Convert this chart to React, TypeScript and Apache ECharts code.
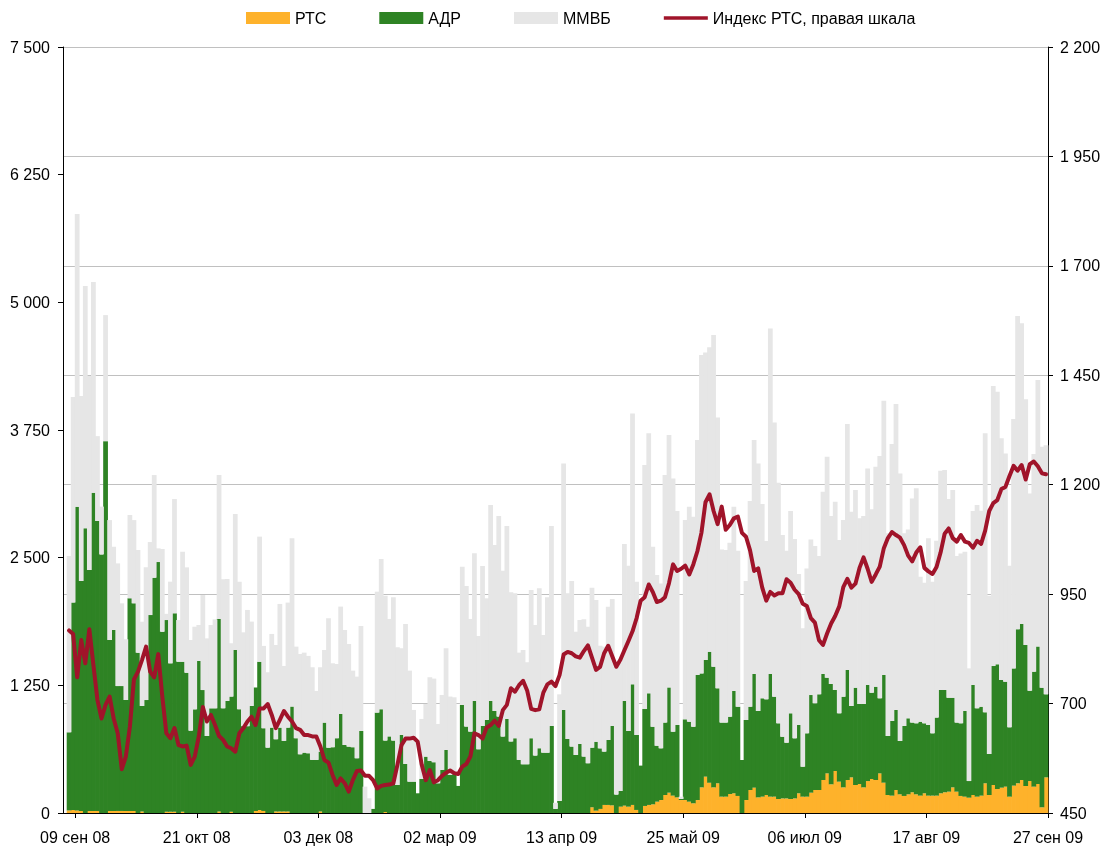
import React, { useEffect, useRef } from 'react';
import * as echarts from 'echarts';

// x-axis date labels (one every 30 trading days)
const tickLabels = ['09 сен 08', '21 окт 08', '03 дек 08', '02 мар 09', '13 апр 09', '25 май 09', '06 июл 09', '17 авг 09', '27 сен 09'];

// daily trading volumes, stacked
const rts = [
  25, 30, 25, 20, 0, 20, 20, 20, 0, 0,
  20, 20, 20, 20, 20, 20, 20, 0, 15, 0,
  0, 0, 0, 0, 12, 12, 12, 0, 12, 0,
  0, 0, 0, 0, 0, 0, 0, 15, 0, 0,
  12, 0, 0, 0, 0, 0, 20, 30, 20, 0,
  0, 15, 15, 15, 15, 0, 0, 0, 0, 0,
  0, 0, 15, 0, 0, 0, 0, 0, 0, 0,
  0, 0, 0, 0, 0, 0, 0, 0, 10, 0,
  0, 0, 0, 0, 0, 0, 0, 0, 0, 0,
  0, 0, 0, 0, 0, 0, 0, 0, 0, 0,
  0, 0, 0, 0, 0, 0, 0, 0, 0, 0,
  0, 0, 0, 0, 0, 0, 0, 0, 0, 0,
  0, 0, 0, 0, 0, 0, 0, 0, 0, 56,
  23, 40, 79, 79, 75, 0, 62, 72, 62, 79,
  30, 0, 69, 79, 85, 111, 127, 176, 199, 170,
  153, 127, 127, 111, 95, 127, 251, 356, 297, 251,
  291, 160, 160, 186, 193, 167, 0, 127, 225, 248,
  153, 160, 176, 160, 160, 137, 143, 143, 137, 143,
  193, 160, 160, 199, 225, 225, 323, 388, 281, 411,
  307, 251, 323, 349, 274, 284, 251, 313, 333, 323,
  388, 297, 176, 170, 225, 183, 167, 183, 203, 183,
  170, 193, 170, 170, 170, 193, 203, 209, 251, 209,
  167, 160, 150, 176, 160, 170, 291, 176, 274, 235,
  248, 258, 160, 268, 291, 323, 264, 313, 258, 284,
  56, 349,
];

const adr = [
  765, 2032, 2974, 2251, 2787, 2359, 3116, 2839, 2532, 3641,
  1674, 1772, 1223, 1223, 1086, 2082, 2033, 1570, 1033, 1106,
  1938, 2304, 2457, 1775, 1877, 1453, 1943, 1482, 1470, 1374,
  806, 1015, 1488, 1204, 754, 1025, 1025, 1884, 1025, 1097,
  1128, 1596, 1016, 850, 850, 1048, 1208, 1452, 810, 640,
  836, 707, 821, 691, 821, 1042, 732, 575, 591, 585,
  520, 520, 586, 885, 640, 644, 732, 970, 666, 650,
  644, 536, 803, 0, 0, 40, 983, 1016, 699, 750,
  709, 275, 764, 480, 307, 307, 193, 334, 552, 510,
  497, 291, 422, 617, 373, 383, 265, 1058, 846, 797,
  1097, 624, 852, 911, 1097, 999, 944, 748, 921, 699,
  732, 520, 477, 477, 732, 562, 634, 591, 591, 852,
  40, 118, 1009, 725, 650, 568, 676, 552, 487, 584,
  675, 593, 522, 636, 777, 180, 154, 1025, 741, 1181,
  734, 464, 949, 1093, 760, 548, 506, 709, 1031, 626,
  709, 10, 790, 783, 750, 1224, 1116, 1142, 1283, 1182,
  930, 725, 725, 757, 1002, 874, 519, 784, 816, 1113,
  846, 963, 937, 1201, 979, 741, 604, 546, 839, 588,
  669, 294, 620, 956, 849, 937, 1038, 937, 982, 794,
  669, 888, 1077, 699, 953, 783, 816, 940, 845, 914,
  735, 1054, 578, 731, 784, 522, 685, 744, 682, 695,
  724, 685, 692, 610, 764, 1012, 1002, 920, 878, 676,
  711, 839, 163, 1077, 865, 871, 695, 402, 1165, 1221,
  1054, 1028, 679, 1148, 1507, 1527, 1381, 885, 1126, 1345,
  1171, 813,
];

const mmvb = [
  1726, 2011, 2865, 1811, 2372, 1899, 2062, 831, 468, 1234,
  1174, 815, 1201, 810, 594, 815, 815, 1005, 825, 1299,
  715, 1005, 134, 810, 61, 800, 1119, 407, 1076, 1031,
  888, 809, 353, 930, 956, 816, 871, 1411, 1263, 1194,
  522, 1332, 1249, 919, 1138, 826, 0, 1224, 806, 738,
  917, 923, 1211, 734, 1224, 1647, 897, 982, 979, 953,
  907, 675, 826, 711, 1266, 822, 727, 1051, 1126, 1005,
  750, 799, 1028, 258, 144, 0, 1184, 1471, 1419, 1150,
  1403, 1348, 849, 1371, 1087, 702, 0, 587, 516, 819,
  819, 581, 734, 996, 767, 750, 0, 1354, 1377, 1103,
  1446, 1109, 1567, 1191, 1919, 1625, 1964, 1625, 1889, 1462,
  1419, 1050, 1119, 999, 1452, 1279, 1566, 1152, 1521, 1958,
  60, 1044, 2414, 1426, 1621, 1207, 1214, 1344, 1337, 1566,
  1387, 1005, 1027, 1305, 1243, 1253, 1259, 1537, 1618, 2652,
  1501, 0, 2389, 2545, 1762, 1671, 1615, 2424, 2470, 2480,
  2095, 23, 1951, 2105, 2056, 2301, 3117, 3012, 2979, 3246,
  2652, 1696, 1690, 1704, 1804, 1527, 0, 1360, 2014, 2291,
  2424, 1902, 1550, 3384, 2685, 2356, 1975, 1879, 1981, 1951,
  1478, 1354, 1615, 1524, 1540, 1354, 1785, 2163, 1645, 1843,
  1697, 1729, 2408, 1902, 1935, 1818, 1841, 2121, 1795, 2154,
  2372, 2686, 1984, 2711, 2995, 2620, 1886, 1850, 2195, 2301,
  1420, 1377, 1827, 1485, 1732, 2146, 2153, 1945, 2033, 1631,
  1664, 1559, 1103, 1704, 1990, 1919, 2731, 1550, 2741, 2669,
  2366, 2235, 1582, 2441, 3067, 2944, 2405, 1931, 2131, 2610,
  2359, 2438,
];

// RTS index, right scale
const rtsIndex = [
  867, 859, 760, 845, 792, 870, 788, 708, 666, 697,
  716, 666, 632, 550, 579, 647, 755, 773, 800, 830,
  773, 760, 813, 716, 632, 621, 644, 605, 602, 604,
  560, 579, 625, 692, 659, 674, 651, 626, 617, 602,
  598, 590, 632, 644, 659, 670, 651, 689, 689, 699,
  674, 644, 663, 683, 670, 659, 644, 640, 628, 628,
  625, 625, 602, 571, 565, 537, 514, 529, 518, 499,
  525, 546, 547, 535, 535, 525, 506, 512, 514, 515,
  518, 560, 605, 620, 620, 622, 613, 560, 525, 548,
  520, 525, 535, 542, 547, 541, 539, 556, 562, 579,
  632, 628, 620, 645, 651, 661, 649, 685, 697, 735,
  727, 742, 752, 730, 688, 685, 687, 725, 744, 750,
  740, 765, 812, 818, 815, 808, 805, 820, 833, 805,
  777, 784, 815, 832, 808, 784, 800, 822, 843, 865,
  895, 935, 943, 972, 955, 932, 935, 943, 975, 1018,
  1003, 1008, 1015, 995, 1018, 1048, 1090, 1160, 1178, 1140,
  1110, 1150, 1097, 1108, 1123, 1127, 1090, 1081, 1050, 1003,
  1009, 965, 935, 955, 947, 952, 952, 984, 976, 960,
  950, 928, 923, 895, 885, 845, 834, 860, 883, 900,
  922, 966, 985, 965, 974, 1010, 1034, 1008, 978, 995,
  1013, 1055, 1078, 1092, 1085, 1079, 1062, 1038, 1025, 1045,
  1057, 1010, 1002, 996, 1012, 1045, 1088, 1100, 1078, 1070,
  1085, 1070, 1067, 1056, 1072, 1065, 1095, 1140, 1158, 1165,
  1190, 1195, 1220, 1243, 1232, 1245, 1212, 1247, 1253, 1242,
  1226, 1224,
];

const FONT = "'Liberation Sans', Arial, sans-serif";
const fmt = (v: number) => String(v).replace(/\B(?=(\d{3})+(?!\d))/g, ' ');
// legend swatch for the line: a thick horizontal stroke centred in the item box
const LINE_ICON = 'path://M0,0L0,0M0,4.2L47,4.2L47,7.8L0,7.8ZM47,12L47,12';

const COLORS = { rts: '#FEB22B', adr: '#2E8324', mmvb: '#E6E6E6', line: '#A0142A' };

export default function App() {
  const ref = useRef<HTMLDivElement>(null);

  useEffect(() => {
    if (!ref.current) return;
    const chart = echarts.init(ref.current, null, { renderer: 'svg' });

    const n = rts.length;
    // bar category axis: one leading empty slot, then each trading day
    const barCats = Array.from({ length: n + 1 }, (_, i) => String(i));
    // label axis: category boundaries, labels every 30 trading days starting at boundary 3
    const labelCats = Array.from({ length: n + 2 }, () => '');
    tickLabels.forEach((t, i) => {
      const idx = 3 + i * 30;
      if (idx < labelCats.length) labelCats[idx] = t;
    });

    // stacked layers: [category index, base, top]
    const layer1 = rts.map((v, i) => [i + 1, 0, v]);
    const layer2 = adr.map((v, i) => [i + 1, rts[i], rts[i] + v]);
    const layer3 = mmvb.map((v, i) => [i + 1, rts[i] + adr[i], rts[i] + adr[i] + v]);

    const stackedBar = (name: string, color: string, data: number[][]) => ({
      name,
      type: 'custom',
      xAxisIndex: 0,
      yAxisIndex: 0,
      itemStyle: { color },
      encode: { x: 0, y: 2 },
      data,
      renderItem: (params: any, api: any) => {
        const x = api.value(0);
        const y0 = api.value(1);
        const y1 = api.value(2);
        if (!(y1 > y0)) return null;
        const pBase = api.coord([x, y0]);
        const pTop = api.coord([x, y1]);
        const w = api.size([1, 0])[0];
        return {
          type: 'rect',
          shape: { x: pBase[0] - w / 2 - 0.35, y: pTop[1], width: w + 0.7, height: pBase[1] - pTop[1] },
          style: { fill: color },
        };
      },
    });

    chart.setOption({
      animation: false,
      textStyle: { fontFamily: FONT },
      legend: {
        left: 246,
        top: 10,
        padding: 0,
        itemWidth: 44,
        itemHeight: 12,
        itemGap: 53,
        textStyle: { fontSize: 16, color: '#000', fontFamily: FONT },
        data: [
          { name: 'РТС', icon: 'rect' },
          { name: 'АДР', icon: 'rect' },
          { name: 'ММВБ', icon: 'rect' },
          { name: 'Индекс РТС, правая шкала', icon: LINE_ICON, itemStyle: { color: COLORS.line, borderWidth: 0 } },
        ],
      },
      grid: { left: 63, right: 60, top: 47, bottom: 39, containLabel: false },
      xAxis: [
        {
          type: 'category',
          data: barCats,
          boundaryGap: true,
          show: false,
        },
        {
          type: 'category',
          data: labelCats,
          boundaryGap: false,
          position: 'bottom',
          axisLine: { show: true, lineStyle: { color: '#000', width: 1 } },
          axisTick: {
            show: true,
            length: 5,
            interval: (i: number, v: string) => v !== '',
            lineStyle: { color: '#000' },
          },
          axisLabel: {
            interval: (i: number, v: string) => v !== '',
            fontSize: 16,
            color: '#000',
            margin: 16,
            fontFamily: FONT,
          },
          splitLine: { show: false },
        },
      ],
      yAxis: [
        {
          type: 'value',
          min: 0,
          max: 7500,
          interval: 1250,
          position: 'left',
          axisLine: { show: true, lineStyle: { color: '#000', width: 1 } },
          axisTick: { show: true, length: 5, lineStyle: { color: '#000' } },
          axisLabel: { fontSize: 16, color: '#000', margin: 13, formatter: fmt, fontFamily: FONT },
          splitLine: { show: false },
        },
        {
          type: 'value',
          min: 450,
          max: 2200,
          interval: 250,
          position: 'right',
          axisLine: { show: true, lineStyle: { color: '#000', width: 1 } },
          axisTick: { show: true, length: 5, lineStyle: { color: '#000' } },
          axisLabel: { fontSize: 16, color: '#000', margin: 12, formatter: fmt, fontFamily: FONT },
          splitLine: { show: true, lineStyle: { color: '#c0c0c0', width: 1 } },
        },
      ],
      series: [
        stackedBar('РТС', COLORS.rts, layer1),
        stackedBar('АДР', COLORS.adr, layer2),
        stackedBar('ММВБ', COLORS.mmvb, layer3),
        {
          name: 'Индекс РТС, правая шкала',
          type: 'line',
          xAxisIndex: 0,
          yAxisIndex: 1,
          symbol: 'none',
          showSymbol: false,
          lineStyle: { color: COLORS.line, width: 4, join: 'round', cap: 'round' },
          itemStyle: { color: COLORS.line },
          z: 5,
          data: [null, ...rtsIndex],
        },
      ],
    });

    return () => chart.dispose();
  }, []);

  return (
    <div
      ref={ref}
      style={{ position: 'fixed', left: 0, top: 0, width: 1108, height: 852 }}
    />
  );
}
